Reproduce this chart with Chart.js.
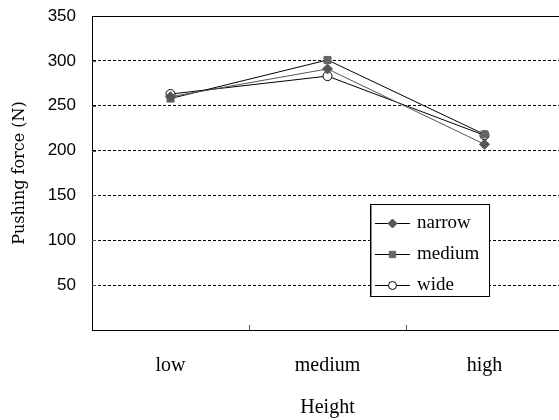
<!DOCTYPE html>
<html>
<head>
<meta charset="utf-8">
<script src="https://cdn.jsdelivr.net/npm/chart.js@4"></script>
<style>
  html, body { margin: 0; padding: 0; background: #fff; overflow: hidden; }
  #wrap { width: 566px; height: 420px; }
</style>
</head>
<body>
<div id="wrap"><canvas id="myChart"></canvas></div>
<script>
const heights = ['low', 'medium', 'high'];
const narrow = [260, 291, 207];
const medium = [258, 301, 218];
const wide = [263, 283, 217];
const yTicks = [50, 100, 150, 200, 250, 300, 350];

const serif = '"Liberation Serif", "DejaVu Serif", serif';

// inward tick marks, top border and the boxed legend
const extras = {
  id: 'extras',
  afterDraw(chart) {
    const ctx = chart.ctx;
    const area = chart.chartArea;
    const x = chart.scales.x;
    const y = chart.scales.y;
    ctx.save();
    ctx.strokeStyle = '#000';
    ctx.lineWidth = 1;
    ctx.beginPath();
    ctx.moveTo(area.left, Math.round(area.top) + 0.5);
    ctx.lineTo(area.right, Math.round(area.top) + 0.5);
    ctx.stroke();

    ctx.strokeStyle = '#555';
    ctx.beginPath();
    for (let i = 0; i < heights.length - 1; i++) {
      const px = Math.round((x.getPixelForValue(i) + x.getPixelForValue(i + 1)) / 2) + 0.5;
      ctx.moveTo(px, area.bottom);
      ctx.lineTo(px, area.bottom - 5);
    }
    yTicks.slice(0, -1).forEach(v => {
      const py = Math.round(y.getPixelForValue(v)) + 0.5;
      ctx.moveTo(area.left, py);
      ctx.lineTo(area.left + 4, py);
    });
    ctx.stroke();

    // legend box
    const bx = 370.5, by = 204.5, bw = 119, bh = 92;
    ctx.fillStyle = '#fff';
    ctx.fillRect(bx, by, bw, bh);
    ctx.strokeStyle = '#000';
    ctx.strokeRect(bx, by, bw, bh);
    ctx.strokeStyle = '#888';
    ctx.beginPath();
    ctx.moveTo(bx + 1, by + 1);
    ctx.lineTo(bx + 1, by + bh - 1);
    ctx.stroke();

    const rows = [223, 254, 285];
    ctx.textBaseline = 'middle';
    chart.data.datasets.forEach((ds, i) => {
      const ry = rows[i] + 0.5;
      ctx.strokeStyle = '#000';
      ctx.lineWidth = 1;
      ctx.beginPath();
      ctx.moveTo(375, ry);
      ctx.lineTo(410, ry);
      ctx.stroke();
      ctx.fillStyle = ds.pointBackgroundColor;
      ctx.strokeStyle = ds.pointBorderColor;
      Chart.helpers.drawPoint(ctx, {
        pointStyle: ds.pointStyle,
        radius: ds.pointRadius - 0.5,
        borderWidth: 1
      }, 392.5, ry);
      ctx.fillStyle = '#000';
      ctx.font = '19px ' + serif;
      ctx.fillText(ds.label, 417, rows[i]);
    });
    ctx.restore();
  }
};

const ctxEl = document.getElementById('myChart');
const chart = new Chart(ctxEl, {
  type: 'line',
  data: {
    labels: heights,
    datasets: [
      {
        label: 'narrow',
        data: narrow,
        borderColor: '#555',
        borderWidth: 1,
        pointStyle: 'rectRot',
        pointRadius: 5,
        pointBackgroundColor: '#555',
        pointBorderColor: '#555',
        pointBorderWidth: 1,
        tension: 0
      },
      {
        label: 'medium',
        data: medium,
        borderColor: '#000',
        borderWidth: 1,
        pointStyle: 'rect',
        pointRadius: 5,
        pointBackgroundColor: '#666',
        pointBorderColor: '#666',
        pointBorderWidth: 1,
        tension: 0
      },
      {
        label: 'wide',
        data: wide,
        borderColor: '#000',
        borderWidth: 1,
        pointStyle: 'circle',
        pointRadius: 4.5,
        pointBackgroundColor: '#fff',
        pointBorderColor: '#000',
        pointBorderWidth: 1,
        tension: 0
      }
    ]
  },
  options: {
    responsive: true,
    maintainAspectRatio: false,
    animation: false,
    layout: { autoPadding: false, padding: { top: 0, right: 3, left: 0, bottom: 0 } },
    plugins: {
      legend: { display: false },
      tooltip: { enabled: false }
    },
    scales: {
      x: {
        offset: true,
        grid: { display: false },
        border: { display: true, color: '#000', width: 1 },
        ticks: {
          color: '#000',
          font: { family: serif, size: 20 },
          padding: 16
        },
        title: {
          display: true,
          text: 'Height',
          color: '#000',
          font: { family: serif, size: 20 },
          padding: { top: 16, bottom: 0 }
        },
        afterFit(scale) { scale.height = 90; }
      },
      y: {
        min: 0,
        max: 350,
        afterBuildTicks(scale) {
          scale.ticks = [0].concat(yTicks).map(v => ({ value: v }));
        },
        grid: {
          drawTicks: false,
          color: ctx => (ctx.tick && ctx.tick.value > 0 && ctx.tick.value < 350) ? '#000' : 'rgba(0,0,0,0)',
          lineWidth: 1
        },
        border: { display: true, color: '#000', width: 1, dash: [3, 2] },
        ticks: {
          color: '#000',
          font: { family: '"Liberation Sans", Arial, sans-serif', size: 17 },
          padding: 16,
          callback: v => (v === 0 ? '' : v)
        },
        title: {
          display: true,
          text: 'Pushing force (N)',
          color: '#000',
          font: { family: '"DejaVu Serif", serif', size: 16 },
          padding: { top: 10, bottom: 0 }
        },
        afterFit(scale) {
          scale.width = 92;
          scale.paddingTop = 16;
        }
      }
    }
  },
  plugins: [extras]
});
</script>
</body>
</html>
